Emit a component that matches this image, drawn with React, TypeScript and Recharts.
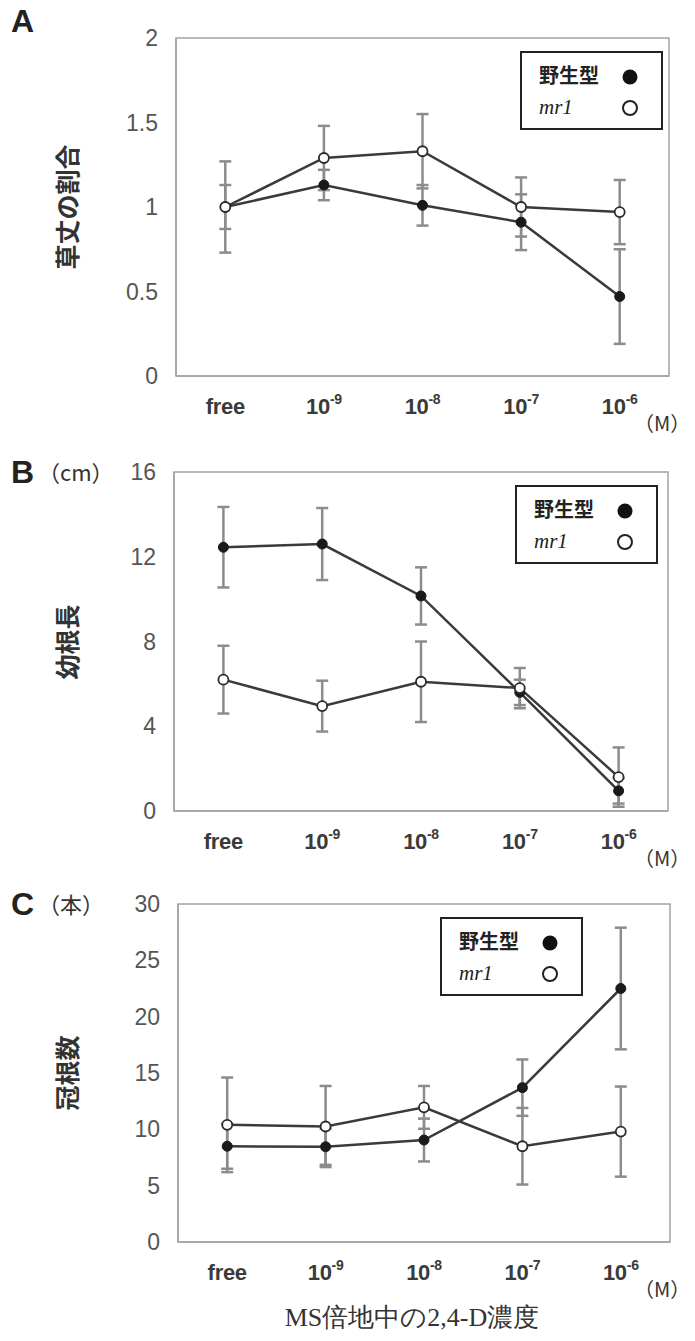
import * as R from 'recharts';
import { ErrorBar, Legend, Line, LineChart, XAxis, YAxis } from 'recharts';

// 2,4-D concentration (M)
const concentrations = ['free', '10^-9', '10^-8', '10^-7', '10^-6'];

// A: plant height ratio
const heightWt = [1.0, 1.13, 1.01, 0.91, 0.47];
const heightWtErr = [0.13, 0.09, 0.12, 0.165, 0.28];
const heightMr1 = [1.0, 1.29, 1.33, 1.0, 0.97];
const heightMr1Err = [0.27, 0.19, 0.22, 0.175, 0.19];
const heightTicks = [0, 0.5, 1, 1.5, 2];

// B: radicle length (cm)
const radicleWt = [12.45, 12.6, 10.15, 5.6, 0.95];
const radicleWtErr = [1.9, 1.7, 1.35, 0.6, 0.6];
const radicleMr1 = [6.2, 4.95, 6.1, 5.8, 1.6];
const radicleMr1Err = [1.6, 1.2, 1.9, 0.95, 1.4];
const radicleTicks = [0, 4, 8, 12, 16];

// C: crown root number
const crownWt = [8.5, 8.45, 9.05, 13.7, 22.5];
const crownWtErr = [2.0, 1.6, 1.9, 2.5, 5.4];
const crownMr1 = [10.4, 10.25, 11.95, 8.5, 9.8];
const crownMr1Err = [4.2, 3.6, 1.9, 3.4, 4.0];
const crownTicks = [0, 5, 10, 15, 20, 25, 30];

const SANS = '"Liberation Sans", Arial, sans-serif';
const JP = '"Noto Sans CJK JP", "Noto Sans", sans-serif';
const SERIF = '"Liberation Serif", "Times New Roman", serif';

const LINE = '#3a3a3a';
const ERR = '#8c8c8c';
const FRAME = '#a3a3a3';

function buildRows(wt: number[], wtErr: number[], mr1: number[], mr1Err: number[]) {
  return concentrations.map((c, i) => ({
    conc: c,
    wt: wt[i],
    wtErr: wtErr[i],
    mr1: mr1[i],
    mr1Err: mr1Err[i],
  }));
}

// box around the whole plot area (the axes only give left + bottom)
function PlotFrame() {
  const area = (R as any).usePlotArea?.();
  if (!area) return null;
  return (
    <rect
      x={area.x}
      y={area.y}
      width={area.width}
      height={area.height}
      fill="none"
      stroke={FRAME}
      strokeWidth={1.5}
    />
  );
}

function ConcTick(props: any) {
  const { x, y, payload } = props;
  const [base, exp] = String(payload.value).split('^');
  return (
    <text
      x={x}
      y={y + 36}
      textAnchor="middle"
      fill="#3a3a3a"
      fontSize={22}
      fontWeight="bold"
      fontFamily={SANS}
      letterSpacing={-0.3}
    >
      <tspan>{base}</tspan>
      {exp && (
        <tspan dy={-10} fontSize={14}>
          {exp}
        </tspan>
      )}
    </text>
  );
}

function LegendBox() {
  return (
    <div
      style={{
        width: 143,
        height: 79,
        boxSizing: 'border-box',
        border: '2px solid #222',
        background: '#fff',
        position: 'relative',
      }}
    >
      <span
        style={{
          position: 'absolute',
          left: 17,
          top: 10,
          fontFamily: JP,
          fontWeight: 'bold',
          fontSize: 20,
          lineHeight: '24px',
          color: '#222',
        }}
      >
        野生型
      </span>
      <span
        style={{
          position: 'absolute',
          left: 17,
          top: 42,
          fontFamily: SERIF,
          fontStyle: 'italic',
          fontSize: 21,
          lineHeight: '24px',
          color: '#222',
        }}
      >
        mr1
      </span>
      <svg width={20} height={70} style={{ position: 'absolute', left: 98, top: 4 }}>
        <circle cx={10} cy={20} r={7.5} fill="#111" />
        <circle cx={10} cy={51} r={7} fill="#fff" stroke="#222" strokeWidth={2} />
      </svg>
    </div>
  );
}

interface PanelProps {
  top: number;
  plotLeft: number;
  plotRight: number;
  plotHeight: number;
  rows: ReturnType<typeof buildRows>;
  ticks: number[];
  letter: string;
  letterTop: number;
  unit?: string;
  title: string;
  legendLeft: number;
}

function Panel({
  top,
  plotLeft,
  plotRight,
  plotHeight,
  rows,
  ticks,
  letter,
  letterTop,
  unit,
  title,
  legendLeft,
}: PanelProps) {
  const marginTop = 38;
  const axisH = 50;
  const chartH = marginTop + plotHeight + axisH + 6;
  const yAxisW = 40;
  const domain: [number, number] = [ticks[0], ticks[ticks.length - 1]];
  // half a category band on each side, so points sit in the band centres
  const pad = (plotRight - plotLeft) / (concentrations.length * 2);
  return (
    <div style={{ position: 'absolute', left: 0, top, width: 695, height: chartH }}>
      <LineChart
        width={695}
        height={chartH}
        data={rows}
        margin={{ top: marginTop, right: 695 - plotRight, bottom: 6, left: plotLeft - yAxisW }}
      >
        <XAxis
          dataKey="conc"
          height={axisH}
          padding={{ left: pad, right: pad }}
          tick={<ConcTick />}
          tickLine={false}
          tickSize={0}
          axisLine={{ stroke: FRAME, strokeWidth: 1.5 }}
          interval={0}
        />
        <YAxis
          type="number"
          domain={domain}
          ticks={ticks}
          allowDataOverflow
          width={yAxisW}
          tickLine={false}
          tickMargin={12}
          axisLine={{ stroke: FRAME, strokeWidth: 1.5 }}
          tick={{ fill: '#555', fontSize: 23, fontFamily: SANS }}
        />
        <PlotFrame />
        <Legend
          layout="horizontal"
          verticalAlign="middle"
          align="center"
          content={() => <LegendBox />}
          wrapperStyle={{ left: legendLeft, top: marginTop + 13, width: 143, height: 79 }}
        />
        <Line
          dataKey="wt"
          name="野生型"
          stroke={LINE}
          strokeWidth={2.5}
          dot={{ r: 5, fill: '#1a1a1a', stroke: '#1a1a1a', strokeWidth: 1 }}
          isAnimationActive={false}
        >
          <ErrorBar dataKey="wtErr" width={6} stroke={ERR} strokeWidth={2.5} direction="y" />
        </Line>
        <Line
          dataKey="mr1"
          name="mr1"
          stroke={LINE}
          strokeWidth={2.5}
          dot={{ r: 5, fill: '#fff', stroke: '#2a2a2a', strokeWidth: 1.8 }}
          isAnimationActive={false}
        >
          <ErrorBar dataKey="mr1Err" width={6} stroke={ERR} strokeWidth={2.5} direction="y" />
        </Line>
      </LineChart>
      <div
        style={{
          position: 'absolute',
          left: 11,
          top: letterTop,
          fontFamily: SANS,
          fontWeight: 'bold',
          fontSize: 32,
          lineHeight: '32px',
          color: '#222',
        }}
      >
        {letter}
      </div>
      {unit && (
        <div
          style={{
            position: 'absolute',
            left: 38,
            top: marginTop - 14,
            fontFamily: JP,
            fontSize: 22,
            lineHeight: '26px',
            color: '#333',
            whiteSpace: 'nowrap',
          }}
        >
          {unit}
        </div>
      )}
      <div
        style={{
          position: 'absolute',
          left: 66,
          top: marginTop + plotHeight / 2,
          transform: 'translate(-50%, -50%) rotate(-90deg)',
          fontFamily: JP,
          fontWeight: 'bold',
          fontSize: 25,
          lineHeight: '28px',
          color: '#333',
          whiteSpace: 'nowrap',
        }}
      >
        {title}
      </div>
      <div
        style={{
          position: 'absolute',
          left: 634,
          top: marginTop + plotHeight + 35,
          fontFamily: JP,
          fontSize: 20,
          lineHeight: '24px',
          color: '#333',
          whiteSpace: 'nowrap',
        }}
      >
        （M）
      </div>
    </div>
  );
}

export default function App() {
  return (
    <div
      style={{
        position: 'absolute',
        left: 0,
        top: 0,
        width: 695,
        height: 1341,
        background: '#fff',
        overflow: 'hidden',
      }}
    >
      <Panel
        top={0}
        plotLeft={176}
        plotRight={669}
        plotHeight={338}
        rows={buildRows(heightWt, heightWtErr, heightMr1, heightMr1Err)}
        ticks={heightTicks}
        letter="A"
        letterTop={5}
        title="草丈の割合"
        legendLeft={520}
      />
      <Panel
        top={434}
        plotLeft={174}
        plotRight={668}
        plotHeight={339}
        rows={buildRows(radicleWt, radicleWtErr, radicleMr1, radicleMr1Err)}
        ticks={radicleTicks}
        letter="B"
        letterTop={22}
        unit="（cm）"
        title="幼根長"
        legendLeft={515}
      />
      <Panel
        top={866}
        plotLeft={178}
        plotRight={670}
        plotHeight={338}
        rows={buildRows(crownWt, crownWtErr, crownMr1, crownMr1Err)}
        ticks={crownTicks}
        letter="C"
        letterTop={22}
        unit="（本）"
        title="冠根数"
        legendLeft={440}
      />
      <div
        style={{
          position: 'absolute',
          left: 412,
          top: 1318,
          transform: 'translate(-50%, -50%)',
          fontFamily: SERIF,
          fontSize: 26,
          lineHeight: '30px',
          color: '#333',
          whiteSpace: 'nowrap',
        }}
      >
        MS倍地中の2,4-D濃度
      </div>
    </div>
  );
}
